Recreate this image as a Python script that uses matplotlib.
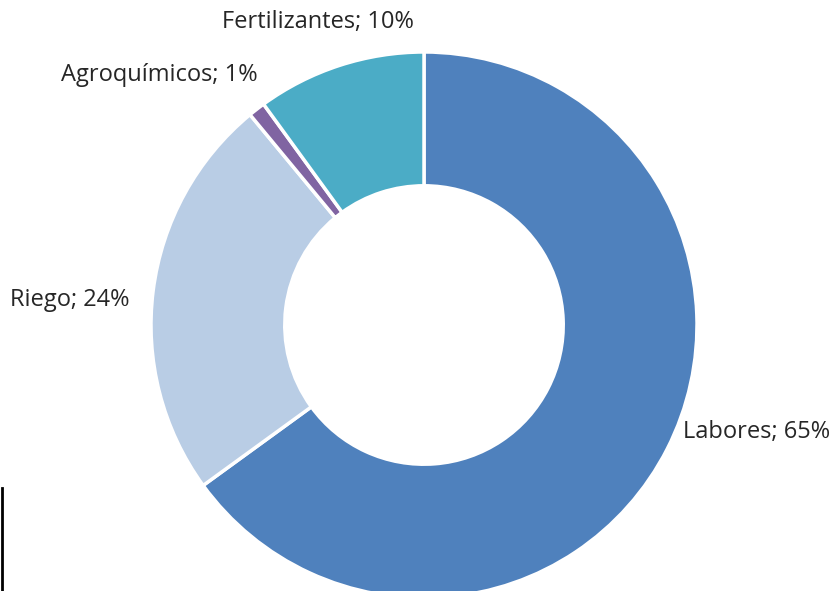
import matplotlib.pyplot as plt

categorias = ["Labores", "Riego", "Agroquímicos", "Fertilizantes"]
porcentajes = [65, 24, 1, 10]
colores = ["#4F81BD", "#B9CDE5", "#8064A2", "#4BACC6"]

W, H = 838, 591
fig = plt.figure(figsize=(W / 100, H / 100), dpi=100)
ax = fig.add_axes([0, 0, 1, 1])

# donut in pixel units (y measured from bottom)
cx, cy, r = 424, H - 325, 273
ax.pie(porcentajes, colors=colores, startangle=90, counterclock=False,
       center=(cx, cy), radius=r,
       wedgeprops=dict(width=r * 0.49, edgecolor="white", linewidth=2.5))
ax.set_xlim(0, W)
ax.set_ylim(0, H)
ax.set_aspect("equal")
ax.axis("off")

# label positions (pixels from top-left) and alignment
pos = {
    "Labores": (683, 432, "left"),
    "Riego": (10, 300, "left"),
    "Agroquímicos": (258, 75, "right"),
    "Fertilizantes": (318, 22, "center"),
}
for cat, p in zip(categorias, porcentajes):
    x, y, ha = pos[cat]
    ax.text(x, H - y, f"{cat}; {p}%", ha=ha, va="center",
            fontsize=17, family="Open Sans", color="#262626")

# small border fragment at bottom left of the original screenshot
ax.plot([2, 2], [H - 488, 0], color="black", lw=2)

fig.savefig("out.png", dpi=100)
